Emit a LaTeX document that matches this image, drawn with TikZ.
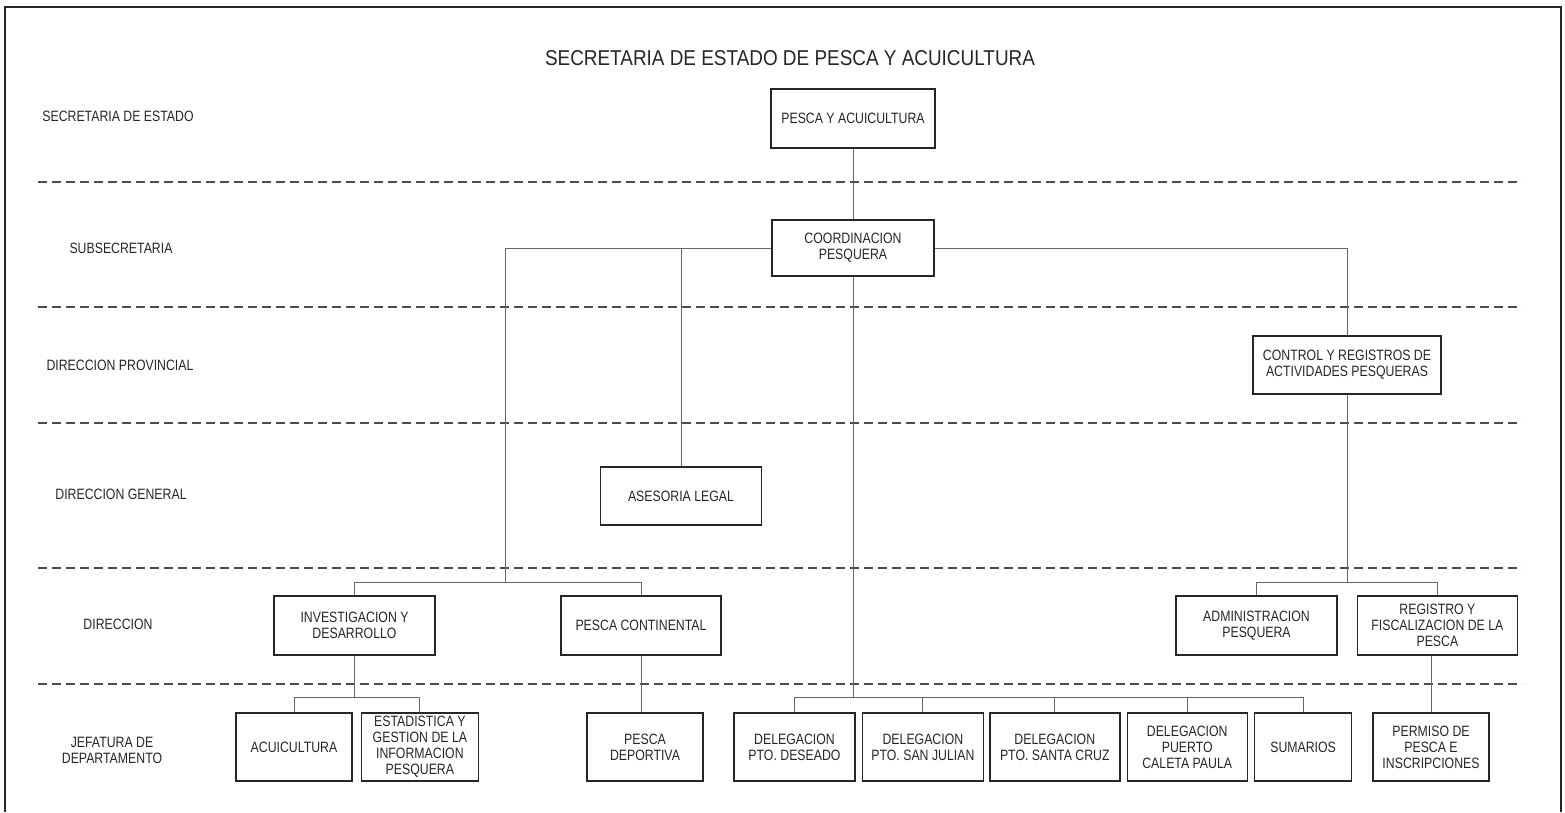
\documentclass[tikz,border=0pt]{standalone}
\usepackage{fontspec}
\setmainfont[FakeStretch=0.82]{Liberation Sans}
\newfontfamily\titlefont[FakeStretch=0.88]{Liberation Sans}
\usetikzlibrary{positioning}

\begin{document}
\begin{tikzpicture}[x=1pt, y=-1pt, node distance=6pt,
        font=\fontsize{15}{16}\selectfont,
        main/.style = {draw=black!85, line width=1.4pt, inner sep=0pt, align=center, minimum height=59pt, text=black!85},
        jefe/.style = {main, minimum height=68pt},
        level/.style = {align=center, text=black!85},
        band/.style = {draw=black!70, line width=1.8pt, dash pattern=on 9pt off 5pt},
        conn/.style = {draw=black!60, line width=0.9pt}]
            \useasboundingbox (0,0) rectangle (1565,812);
            % frame, cut at the bottom
            \draw[line width=2pt, black!85] (5,812) -- (5,7) -- (1561,7) -- (1561,812);
            \node[level, font=\titlefont\fontsize{21.5}{24}\selectfont] (title) at (790,58) {SECRETARIA DE ESTADO DE PESCA Y ACUICULTURA};

            % levels
            \foreach \y in {182,307,423,568,684}
                \draw[band] (38,\y) -- (1522,\y);
            \node[level] (l1) at (118,116) {SECRETARIA DE ESTADO};
            \node[level] (l2) at (121,248) {SUBSECRETARIA};
            \node[level] (l3) at (120,365) {DIRECCION PROVINCIAL};
            \node[level] (l4) at (121,494) {DIRECCION GENERAL};
            \node[level] (l5) at (118,624) {DIRECCION};
            \node[level] (l6) at (112,750) {JEFATURA DE\\DEPARTAMENTO};

            % boxes
            \node[main, minimum width=164pt] (pesca) at (853,118.5) {PESCA Y ACUICULTURA};
            \node[main, minimum width=162pt, minimum height=56pt] (coord) at (853,248) {COORDINACION\\PESQUERA};
            \node[main, minimum width=188pt, minimum height=58pt] (ctrl) at (1347,365) {CONTROL Y REGISTROS DE\\ACTIVIDADES PESQUERAS};
            \node[main, minimum width=161pt, minimum height=58pt] (ases) at (681,496) {ASESORIA LEGAL};
            \node[main, minimum width=161pt] (inv) at (354.5,625.5) {INVESTIGACION Y\\DESARROLLO};
            \node[main, minimum width=160pt] (pcont) at (641,625.5) {PESCA CONTINENTAL};
            \node[main, minimum width=161pt] (admin) at (1256.5,625.5) {ADMINISTRACION\\PESQUERA};
            \node[main, minimum width=160pt, right=19pt of admin] (regis) {REGISTRO Y\\FISCALIZACION DE LA\\PESCA};

            \node[jefe, minimum width=116pt] (acui) at (294,747) {ACUICULTURA};
            \node[jefe, minimum width=117pt, right=8pt of acui] (estad) {ESTADISTICA Y\\GESTION DE LA\\INFORMACION\\PESQUERA};
            \node[jefe, minimum width=116pt] (pdep) at (645,747) {PESCA\\DEPORTIVA};
            \node[jefe, minimum width=121pt] (deseado) at (794.5,747) {DELEGACION\\PTO. DESEADO};
            \node[jefe, minimum width=121pt, right=of deseado] (julian) {DELEGACION\\PTO. SAN JULIAN};
            \node[jefe, minimum width=130pt, right=5pt of julian] (cruz) {DELEGACION\\PTO. SANTA CRUZ};
            \node[jefe, minimum width=120pt, right=of cruz] (caleta) {DELEGACION\\PUERTO\\CALETA PAULA};
            \node[jefe, minimum width=97pt, right=of caleta] (sumarios) {SUMARIOS};
            \node[jefe, minimum width=116pt] (permiso) at (1431,747) {PERMISO DE\\PESCA E\\INSCRIPCIONES};

            % junctions
            \coordinate (j1) at (505,582);
            \coordinate (j2) at (1347,582);
            \coordinate (j3) at (354.5,697);
            \coordinate (j4) at (853,697);

            % connectors
            \draw[conn] (pesca) -- (coord);
            \draw[conn] (coord.west) -| (j1);
            \draw[conn] (coord.west) -| (ases.north);
            \draw[conn] (coord.east) -| (ctrl.north);
            \draw[conn] (inv.north) |- (j1);
            \draw[conn] (pcont.north) |- (j1);
            \draw[conn] (ctrl.south) -- (j2);
            \draw[conn] (admin.north) |- (j2);
            \draw[conn] (regis.north) |- (j2);
            \draw[conn] (inv.south) -- (j3);
            \draw[conn] (acui.north) |- (j3);
            \draw[conn] (estad.north) |- (j3);
            \draw[conn] (pcont.south) -- (pcont.south |- pdep.north);
            \draw[conn] (coord.south) -- (j4);
            \foreach \n in {deseado,julian,cruz,caleta,sumarios}
                \draw[conn] (\n.north) |- (j4);
            \draw[conn] (permiso.north) -- (permiso.north |- regis.south);
        \end{tikzpicture}
\end{document}
